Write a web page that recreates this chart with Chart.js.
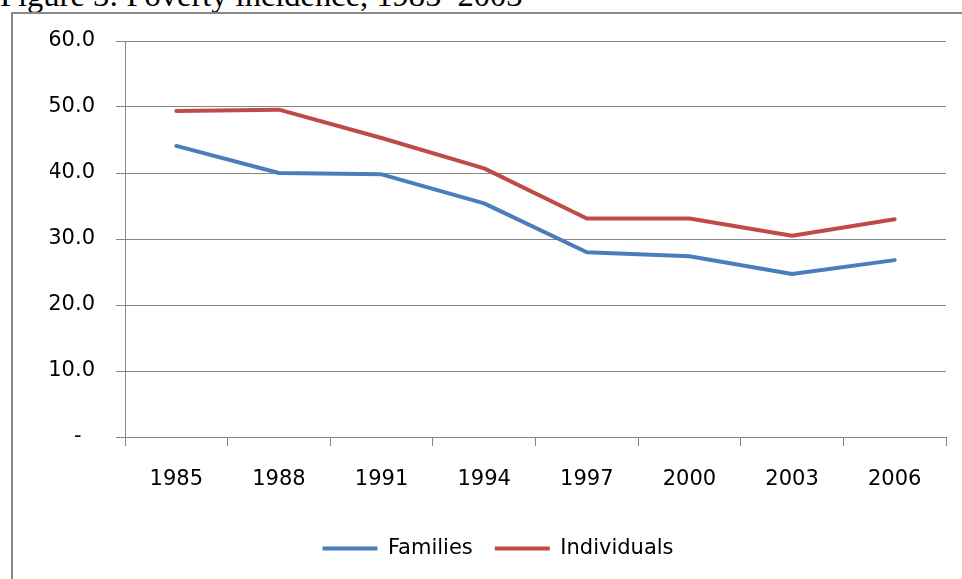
<!DOCTYPE html>
<html>
<head>
<meta charset="utf-8">
<script src="https://cdn.jsdelivr.net/npm/chart.js@4.4.0/dist/chart.umd.min.js"></script>
<style>
  body { margin: 0; background: #fff; overflow: hidden; }
  #title {
    position: absolute; left: 0; top: -21px;
    font-family: "Liberation Serif", "Times New Roman", serif;
    font-size: 32.5px; line-height: 32px; white-space: nowrap; color: #000;
  }
  #frame {
    position: absolute; left: 11px; top: 12px; width: 2000px; height: 2000px;
    border-left: 2px solid #898989; border-top: 2px solid #898989;
  }
  #wrap { position: absolute; left: 0; top: 0; width: 962px; height: 579px; }
</style>
</head>
<body>
<div id="title">Figure 3: Poverty incidence, 1985–2003</div>
<div id="frame"></div>
<div id="wrap"><canvas id="chartCanvas"></canvas></div>
<script>
// datos
const years = ['1985', '1988', '1991', '1994', '1997', '2000', '2003', '2006'];
const families = [44.1, 40.0, 39.8, 35.4, 28.0, 27.4, 24.7, 26.8];
const individuals = [49.4, 49.6, 45.3, 40.7, 33.1, 33.1, 30.5, 33.0];
const yTicks = [0, 10, 20, 30, 40, 50, 60];

const gridColor = '#878787';
const font = { family: 'DejaVu Sans', size: 21 };

const ctx = document.getElementById('chartCanvas').getContext('2d');

const chart = new Chart(ctx, {
  type: 'line',
  data: {
    labels: years,
    datasets: [
      {
        label: 'Families',
        data: families,
        borderColor: '#4a7ebb',
        backgroundColor: '#4a7ebb',
        borderWidth: 4,
        pointRadius: 0,
        borderJoinStyle: 'round',
        borderCapStyle: 'round',
      },
      {
        label: 'Individuals',
        data: individuals,
        borderColor: '#be4b48',
        backgroundColor: '#be4b48',
        borderWidth: 4,
        pointRadius: 0,
        borderJoinStyle: 'round',
        borderCapStyle: 'round',
      },
    ],
  },
  options: {
    responsive: true,
    maintainAspectRatio: false,
    animation: false,
    layout: { padding: { left: 50, right: 16, top: 41, bottom: 10 } },
    plugins: {
      tooltip: { enabled: false },
      legend: {
        position: 'bottom',
        labels: {
          color: '#000',
          font: font,
          boxWidth: 55,
          boxHeight: 4,
          padding: 22,
          generateLabels: function(chart) {
            const items = Chart.defaults.plugins.legend.labels.generateLabels(chart);
            items.forEach(it => { it.lineWidth = 0; it.fillStyle = it.strokeStyle; });
            return items;
          },
        },
      },
    },
    scales: {
      x: {
        offset: true,
        grid: {
          offset: true,
          drawOnChartArea: false,
          drawTicks: true,
          tickLength: 9,
          color: gridColor,
        },
        border: { display: true, color: gridColor },
        ticks: { color: '#000', font: font, padding: 21, maxRotation: 0 },
        afterFit: function(scale) { scale.height = 79; },
      },
      y: {
        min: 0,
        max: 60,
        afterBuildTicks: function(scale) { scale.ticks = yTicks.map(v => ({ value: v })); },
        grid: { color: gridColor, tickLength: 9 },
        border: { display: true, color: gridColor },
        ticks: {
          color: '#000',
          font: font,
          padding: 21,
          callback: function(v) { return v === 0 ? '-  ' : v.toFixed(1); },
        },
        afterFit: function(scale) { scale.width = 75; },
      },
    },
  },
});
</script>
</body>
</html>
